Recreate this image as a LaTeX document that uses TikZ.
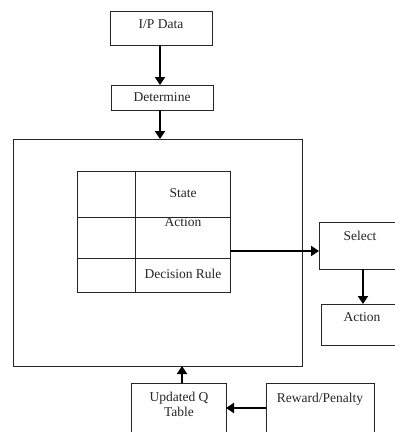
\documentclass[tikz,border=0pt]{standalone}
\usepackage{fontspec}
\setmainfont{Liberation Serif}
\usetikzlibrary{arrows.meta}
\begin{document}
\begin{tikzpicture}[x=1pt,y=-1pt,
  box/.style={draw=black!85,line width=0.9pt},
  lbl/.style={font=\fontsize{13.5}{15}\selectfont,inner sep=0pt,text=black!85},
  arr/.style={draw=black,line width=2.8pt,-{Triangle[width=10pt,length=8pt]}}]
\useasboundingbox (0,0) rectangle (395,432);
\fill[white] (0,0) rectangle (395,432);
\clip (0,0) rectangle (395,432);
% top boxes
\draw[box] (110,11) rectangle (212,45);
\node[lbl] (ip) at (161,24) {I/P Data};
\coordinate (ipb) at (160,45);
\draw[box] (111,85) rectangle (213,110);
\node[lbl] (det) at (162,97) {Determine};
\coordinate (dett) at (160,85);
\coordinate (detb) at (160,110);
% outer box
\draw[box] (13,139) rectangle (302,366);
\coordinate (outt) at (160,139);
\coordinate (outb) at (182,366);
% table
\draw[box] (77,171) rectangle (230,292);
\draw[box] (135,171) -- (135,292);
\draw[box] (77,217) -- (230,217);
\draw[box] (77,258) -- (230,258);
\node[lbl] (state) at (183,193) {State};
\node[lbl] (action1) at (183,222) {Action};
\node[lbl] (dec) at (183,274) {Decision Rule};
\coordinate (tabr) at (230,251);
% select / action
\draw[box] (319,222) rectangle (420,269);
\node[lbl] (sel) at (360,236) {Select};
\coordinate (sell) at (319,251);
\coordinate (selb) at (363,269);
\draw[box] (321,304) rectangle (420,345);
\node[lbl] (act) at (362,317) {Action};
\coordinate (actt) at (363,304);
% bottom boxes
\draw[box] (131,383) rectangle (226,450);
\node[lbl,align=center] (upd) at (179,404) {Updated Q\\Table};
\coordinate (updt) at (182,383);
\coordinate (updr) at (226,408);
\draw[box] (266,383) rectangle (374,450);
\node[lbl] (rew) at (320,399) {Reward/Penalty};
\coordinate (rewl) at (266,408);
% arrows
\draw[arr] (ipb) -- (dett);
\draw[arr] (detb) -- (outt);
\draw[arr] (tabr) -- (sell);
\draw[arr] (selb) -- (actt);
\draw[arr] (updt) -- (outb);
\draw[arr] (rewl) -- (updr);
\end{tikzpicture}
\end{document}
